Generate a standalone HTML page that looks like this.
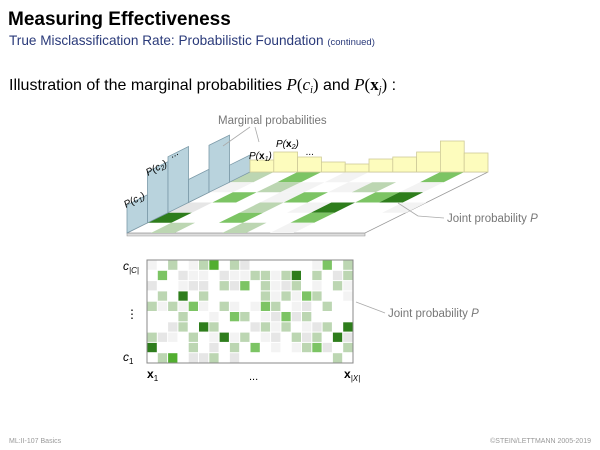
<!DOCTYPE html>
<html><head><meta charset="utf-8"><style>
body{margin:0;background:#fff;width:600px;height:450px;overflow:hidden;font-family:"Liberation Sans",sans-serif}
svg{position:absolute;left:0;top:0}
</style></head><body>
<svg width="600" height="450" viewBox="0 0 600 450">
<text x="8" y="25" font-size="19" font-weight="bold" fill="#000">Measuring Effectiveness</text>
<text x="9" y="45" font-size="13.6" fill="#2a3a7a">True Misclassification Rate: Probabilistic Foundation <tspan font-size="9.5">(continued)</tspan></text>
<text x="9" y="90" font-size="16" fill="#000">Illustration of the marginal probabilities <tspan font-family="Liberation Serif" font-style="italic" font-size="17">P</tspan><tspan font-family="Liberation Serif" font-size="17">(</tspan><tspan font-family="Liberation Serif" font-style="italic" font-size="17">c<tspan font-size="10" dy="3">i</tspan></tspan><tspan font-family="Liberation Serif" font-size="17" dy="-3">)</tspan> and <tspan font-family="Liberation Serif" font-style="italic" font-size="17">P</tspan><tspan font-family="Liberation Serif" font-size="17">(<tspan font-weight="bold">x</tspan><tspan font-size="10" font-style="italic" dy="3">j</tspan><tspan dy="-3">)</tspan></tspan> :</text>
<g id="three-d"></g>
<g id="heat"></g>
<text x="218" y="124" font-size="11.5" fill="#777">Marginal probabilities</text>
<line x1="250" y1="127" x2="223" y2="146" stroke="#aaa" stroke-width="0.8"/>
<line x1="255" y1="127" x2="259" y2="142" stroke="#aaa" stroke-width="0.8"/>
<text x="447" y="222" font-size="11.5" fill="#777">Joint probability <tspan font-style="italic">P</tspan></text>
<line x1="444" y1="218" x2="418" y2="216" stroke="#aaa" stroke-width="0.8"/>
<line x1="418" y1="216" x2="398" y2="203" stroke="#aaa" stroke-width="0.8"/>
<text x="388" y="317" font-size="11.5" fill="#777">Joint probability <tspan font-style="italic">P</tspan></text>
<line x1="385" y1="313" x2="356" y2="302" stroke="#aaa" stroke-width="0.8"/>
<text x="123" y="270" font-size="12" font-style="italic">c<tspan font-size="8" dy="3">|C|</tspan></text>
<text x="126" y="318" font-size="12">⋮</text>
<text x="123" y="361" font-size="12" font-style="italic">c<tspan font-size="8" dy="3" font-style="normal">1</tspan></text>
<text x="147" y="378" font-size="12" font-weight="bold">x<tspan font-size="8" font-weight="normal" dy="3">1</tspan></text>
<text x="249" y="380" font-size="11">...</text>
<text x="344" y="378" font-size="12" font-weight="bold">x<tspan font-size="8" font-weight="normal" font-style="italic" dy="3">|X|</tspan></text>
<text x="9" y="443" font-size="7" fill="#999">ML:II-107    Basics</text>
<text x="591" y="443" font-size="7" fill="#999" text-anchor="end">©STEIN/LETTMANN 2005-2019</text>
</svg>
<script>
// heatmap levels: 0 white .. 6 dark
const heatRows=[
[1,0,3,0,1,3,5,0,3,2,0,0,0,0,0,0,1,4,0,3],
[0,4,0,2,1,1,0,2,1,1,3,3,1,3,6,0,3,0,2,3],
[2,0,0,1,2,2,0,3,2,4,0,3,1,2,3,0,1,0,3,1],
[0,3,0,6,0,3,0,0,0,0,0,3,1,3,1,4,3,0,0,1],
[3,1,3,1,4,1,0,3,1,0,1,4,3,0,1,2,0,3,0,0],
[0,0,0,3,0,0,1,0,4,3,0,1,2,4,2,3,0,0,0,0],
[0,0,2,3,0,6,3,0,0,0,2,3,1,3,0,1,2,3,0,6],
[3,2,1,0,3,0,1,6,1,3,0,1,2,0,3,2,3,0,6,2],
[6,0,0,0,3,0,2,0,3,0,4,0,1,0,1,3,4,2,0,3],
[0,3,5,0,2,2,3,0,2,0,0,0,0,0,0,0,0,0,3,0]];
const classMarginals=[28,51,56,23,47,17];
const featureMarginals=[12,20,15,10,8,13,15,20,31,19];
const floorCells=[
[3,0,4,0,1,0,0,0,4,0],
[1,0,3,1,0,1,3,0,1,0],
[0,4,0,1,4,0,0,4,6,0],
[2,0,0,3,0,1,6,0,0,1],
[6,0,0,4,0,0,4,0,0,0],
[0,3,0,0,3,0,1,0,0,0]];
const pal=["#ffffff","#f3f3f3","#e6e6e6","#bcd6b2","#7cc464","#52ae30","#2e7d1c"];
const NS="http://www.w3.org/2000/svg";
function mk(t,a,p){const e=document.createElementNS(NS,t);for(const k in a)e.setAttribute(k,a[k]);p.appendChild(e);return e;}
const heat=document.getElementById('heat');
const hx0=147,hy0=260,hw=206,hh=103;
const cw=hw/heatRows[0].length,ch=hh/heatRows.length;
heatRows.forEach((row,r)=>row.forEach((v,c)=>{
 const e=mk('rect',{x:hx0+c*cw+0.5,y:hy0+r*ch+0.5,width:cw-1,height:ch-1,fill:pal[v]},heat);
 
 
}));
const hb=mk('rect',{x:hx0,y:hy0,width:hw,height:hh,fill:'none',stroke:'#888','stroke-width':1},heat);


const g=document.getElementById('three-d');
const bx=250,by=172,nu=floorCells[0].length,nv=floorCells.length,du=238/nu,dvx=-123/nv,dvy=61/nv;
function P(u,v){return [bx+u*du+v*dvx,by+v*dvy];}
function poly(pts){return pts.map(p=>p[0].toFixed(1)+','+p[1].toFixed(1)).join(' ');}
const fe=mk('polygon',{points:poly([P(0,nv),P(nu,nv),[P(nu,nv)[0],P(nu,nv)[1]+3],[P(0,nv)[0],P(0,nv)[1]+3]]),fill:'#ddd',stroke:'#999','stroke-width':0.6},g);


const fl=mk('polygon',{points:poly([P(0,0),P(nu,0),P(nu,nv),P(0,nv)]),fill:'#fff',stroke:'#999','stroke-width':0.8},g);


floorCells.forEach((row,v)=>row.forEach((val,u)=>{
 if(!val)return;
 const e=mk('polygon',{points:poly([P(u,v),P(u+1,v),P(u+1,v+1),P(u,v+1)]),fill:pal[val]},g);
 
 
}));
const nc=classMarginals.length;
classMarginals.forEach((h,i)=>{
 const a=[bx+dvx*nv*(1-i/nc),by+dvy*nv*(1-i/nc)],b=[bx+dvx*nv*(1-(i+1)/nc),by+dvy*nv*(1-(i+1)/nc)];
 const e=mk('polygon',{points:poly([a,b,[b[0],b[1]-h],[a[0],a[1]-h]]),fill:'#b9d3dd',stroke:'#7c9aa8','stroke-width':0.8},g);
 
 
});
featureMarginals.forEach((h,i)=>{
 const e=mk('rect',{x:bx+i*du,y:by-h,width:du,height:h,fill:'#fdfcbd',stroke:'#cfcb98','stroke-width':0.8},g);
 
 
});
function lbl(x,y,rot,html,name){const t=mk('text',{x:x,y:y,'font-size':10,'font-style':'italic',transform:rot?`rotate(${rot} ${x} ${y})`:''},g);t.innerHTML=html;
 
 }
lbl(126,208,-28,'P(c<tspan font-size="7" dy="2">1</tspan><tspan dy="-2">)</tspan>','label-p-c1');
lbl(148,176,-28,'P(c<tspan font-size="7" dy="2">2</tspan><tspan dy="-2">)</tspan>','label-p-c2');
lbl(172,158,-28,'...','label-c-dots');
lbl(249,159,0,'P(<tspan font-weight="bold" font-style="normal">x</tspan><tspan font-size="7" dy="2">1</tspan><tspan dy="-2">)</tspan>','label-p-x1');
lbl(276,147,0,'P(<tspan font-weight="bold" font-style="normal">x</tspan><tspan font-size="7" dy="2">2</tspan><tspan dy="-2">)</tspan>','label-p-x2');
lbl(306,155,0,'...','label-x-dots');
</script>
</body></html>
